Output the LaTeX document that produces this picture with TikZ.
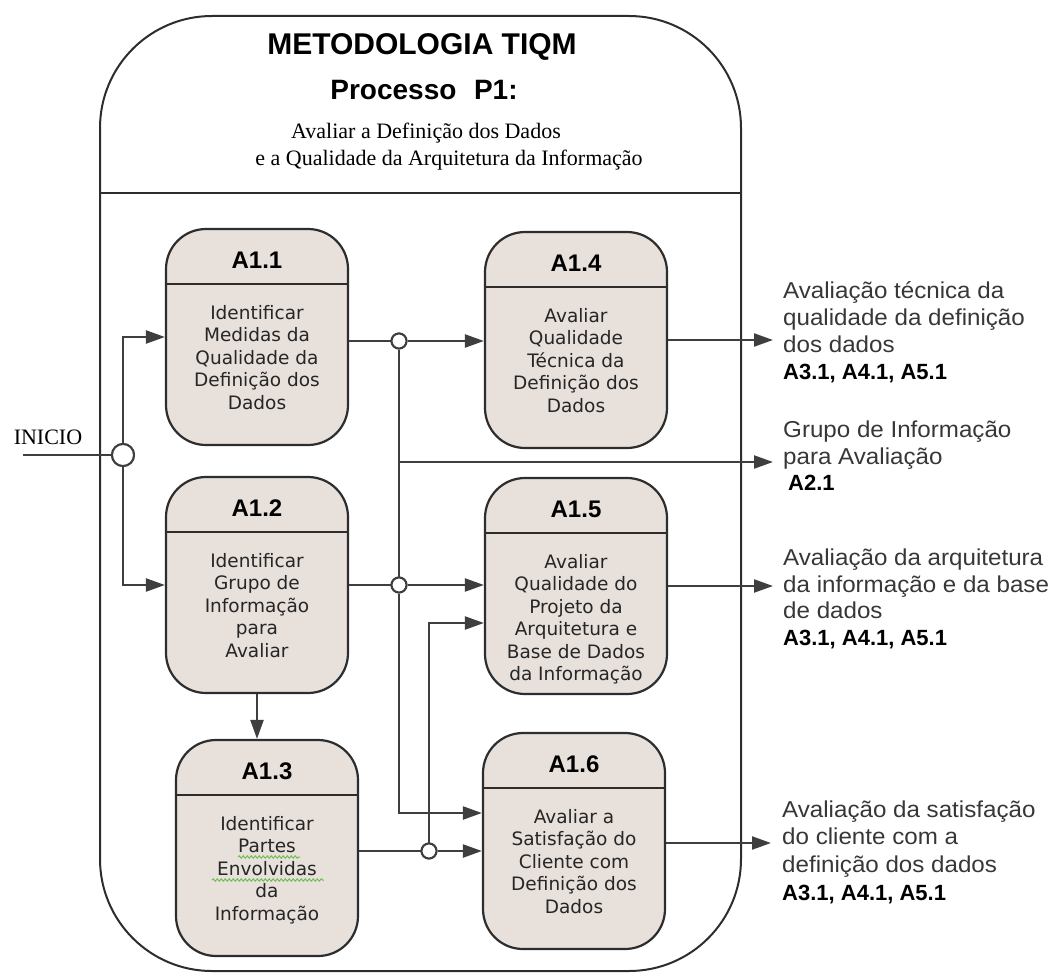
\documentclass[tikz,border=0pt]{standalone}
\usepackage{fontspec}
\setmainfont{Liberation Serif}
\setsansfont{Liberation Sans}
\newfontfamily\cellfont{DejaVu Sans}
\usepackage{graphicx}
\usetikzlibrary{arrows.meta,decorations.pathmorphing}

\definecolor{boxfill}{RGB}{231,224,219}
\definecolor{edge}{RGB}{45,45,45}
\definecolor{wirec}{RGB}{62,62,62}
\definecolor{note}{RGB}{55,55,55}
\definecolor{squig}{RGB}{110,190,80}

% slightly wide setting of the regular output labels
\newcommand\wide[1]{\scalebox{1.05}[1]{#1}}

% process box: name, x, y (centre), code, description
\newcommand\procnode[5]{%
  \node[procbox] (#1) at (#2,#3) {};
  \draw[sepline] ([yshift=-56pt]#1.north west) -- ([yshift=-56pt]#1.north east);
  \node[boxtitle] (#1t) at ([yshift=-32pt]#1.north) {#4};
  \node[boxbody] (#1b) at ([yshift=-77pt]#1.north) {#5};
}

\begin{document}
\begin{tikzpicture}[x=1pt,y=-1pt,
  procbox/.style={draw=edge, line width=2.2pt, fill=boxfill, rounded corners=40pt,
    minimum width=182pt, minimum height=216pt, inner sep=0pt},
  sepline/.style={draw=edge, line width=2.2pt},
  boxtitle/.style={font=\sffamily\bfseries\fontsize{24}{28}\selectfont, text=black, inner sep=0pt},
  boxbody/.style={font=\cellfont\fontsize{18.5}{22.5}\selectfont, text=black!85, align=center,
    inner sep=0pt, anchor=north},
  wire/.style={draw=wirec, line width=2.2pt},
  flow/.style={wire, -{Triangle[length=19pt,width=13pt]}},
  junction/.style={circle, draw=wirec, line width=2pt, fill=white, minimum size=15pt, inner sep=0pt},
  outtext/.style={font=\sffamily\fontsize{23}{27}\selectfont, text=note, anchor=base west, inner sep=0pt},
  outcode/.style={font=\sffamily\bfseries\fontsize{22}{27}\selectfont, text=black, anchor=base west, inner sep=0pt},
  squiggle/.style={draw=squig, line width=1pt, decorate,
    decoration={snake, amplitude=1.1pt, segment length=4pt}},
]
\useasboundingbox (0,0) rectangle (1054,974);

% outer process frame and heading band
\draw[draw=edge, line width=2pt, rounded corners=112pt] (100,16) rectangle (741,971);
\draw[draw=edge, line width=2pt] (100,193) -- (741,193);

\node[font=\sffamily\bfseries\fontsize{30}{34}\selectfont] (title) at (422,47) {METODOLOGIA TIQM};
\node[font=\sffamily\bfseries\fontsize{28}{32}\selectfont] (proc) at (424,90) {Processo\hspace{0.35em} P1:};
\node[font=\rmfamily\fontsize{22}{26}\selectfont] (sub1) at (426,133) {Avaliar a Definição dos Dados};
\node[font=\rmfamily\fontsize{22}{26}\selectfont] (sub2) at (449,160) {e a Qualidade da Arquitetura da Informação};

% start of the process
\node[font=\rmfamily\fontsize{22}{26}\selectfont, inner sep=0pt] (inicio) at (48,437) {INICIO};
\coordinate (start) at (23,455);
\node[junction, minimum size=22pt] (c0) at (123,455) {};

% junctions and free ends
\node[junction] (c1) at (399,341) {};
\node[junction] (c2) at (399,585) {};
\node[junction] (c3) at (429,851) {};
\coordinate (j1) at (399,462);
\coordinate (out1) at (773,340);
\coordinate (out2) at (773,462);
\coordinate (out3) at (773,586);
\coordinate (out4) at (771,843);

% process boxes
\procnode{a11}{257}{337}{A1.1}{Identificar\\Medidas da\\Qualidade da\\Definição dos\\Dados}
\procnode{a12}{257}{585}{A1.2}{Identificar\\Grupo de\\Informação\\para\\Avaliar}
\procnode{a13}{267}{848}{A1.3}{Identificar\\Partes\\Envolvidas\\da\\Informação}
\procnode{a14}{576}{340}{A1.4}{Avaliar\\Qualidade\\Técnica da\\Definição dos\\Dados}
\procnode{a15}{576}{586}{A1.5}{Avaliar\\Qualidade do\\Projeto da\\Arquitetura e\\Base de Dados\\da Informação}
\procnode{a16}{574}{841}{A1.6}{Avaliar a\\Satisfação do\\Cliente com\\Definição dos\\Dados}

% spell-check marks under two words of A1.3
\draw[squiggle] (238,857) -- (300,857);
\draw[squiggle] (212,880) -- (324,880);

% connectors
\draw[wire] (start) -- (c0.west);
\draw[flow] (c0.north) |- (a11.west);
\draw[flow] (c0.south) |- (a12.west);

\draw[wire] (c1 -| a11.east) -- (c1.west);
\draw[flow] (c1.east) -- (c1 -| a14.west);
\draw[wire] (c1.south) -- (c2.north);
\draw[wire] (c2 -| a12.east) -- (c2.west);
\draw[flow] (c2.east) -- (c2 -| a15.west);
\draw[flow] (c2.south) |- (a16.west |- 0,813);
\draw[flow] (j1) -- (out2);

\draw[flow] (a12.south) -- (a12.south |- a13.north);

\draw[wire] (c3 -| a13.east) -- (c3.west);
\draw[flow] (c3.east) -- (c3 -| a16.west);
\draw[flow] (c3.north) |- (a15.west |- 0,623);

\draw[flow] (a14.east) -- (out1);
\draw[flow] (a15.east) -- (out3);
\draw[flow] (a16.east |- out4) -- (out4);

% redraw junctions above the wires
\node[junction, minimum size=22pt] at (c0) {};
\node[junction] at (c1) {};
\node[junction] at (c2) {};
\node[junction] at (c3) {};

% outputs
\node[outtext] (o1a) at (783,298) {\wide{Avaliação técnica da}};
\node[outtext] (o1b) at (783,325) {\wide{qualidade da definição}};
\node[outtext] (o1c) at (783,352) {\wide{dos dados}};
\node[outcode] (o1d) at (783,379) {A3.1, A4.1, A5.1};

\node[outtext] (o2a) at (783,437) {\wide{Grupo de Informação}};
\node[outtext] (o2b) at (783,464) {\wide{para Avaliação}};
\node[outcode] (o2c) at (788,490) {A2.1};

\node[outtext] (o3a) at (783,565) {\wide{Avaliação da arquitetura}};
\node[outtext] (o3b) at (783,592) {\wide{da informação e da base}};
\node[outtext] (o3c) at (783,618) {\wide{de dados}};
\node[outcode] (o3d) at (783,645) {A3.1, A4.1, A5.1};

\node[outtext] (o4a) at (782,817) {\wide{Avaliação da satisfação}};
\node[outtext] (o4b) at (782,844) {\wide{do cliente com a}};
\node[outtext] (o4c) at (782,872) {\wide{definição dos dados}};
\node[outcode] (o4d) at (782,900) {A3.1, A4.1, A5.1};
\end{tikzpicture}
\end{document}
